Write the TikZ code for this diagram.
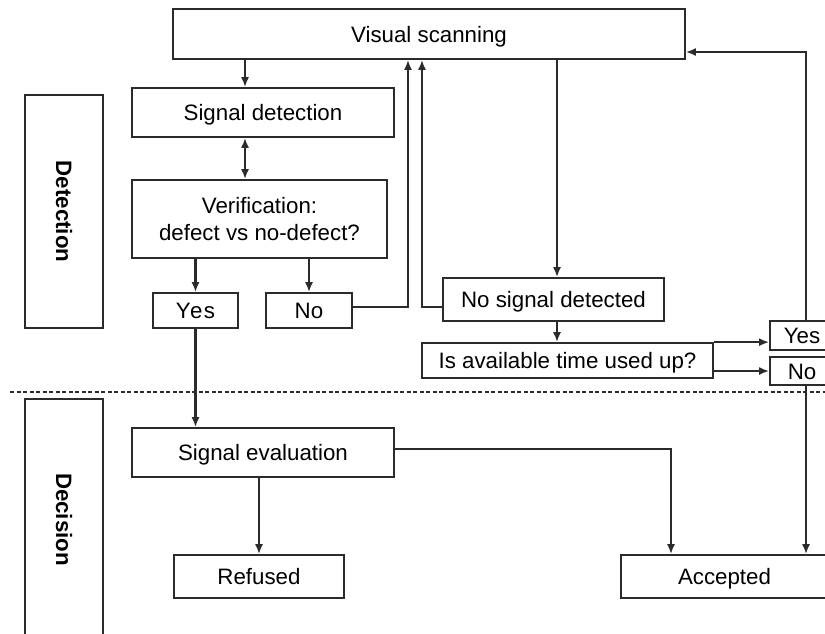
\documentclass[tikz,border=0pt]{standalone}
\usepackage{fontspec}
\setmainfont{Liberation Sans}
\usetikzlibrary{arrows.meta}
\definecolor{linec}{HTML}{2B2B2B}
\begin{document}
\begin{tikzpicture}[x=1pt,y=-1pt,
  box/.style={draw=linec, line width=1.7pt, inner sep=0pt, fill=white,
    font=\fontsize{22.3}{27}\selectfont, text=black, align=center,
    text height=16pt, text depth=0pt},
  arr/.style={draw=linec, line width=2.5pt, -{Latex[length=10pt,width=8pt]}},
  darr/.style={draw=linec, line width=2.5pt, {Latex[length=10pt,width=8pt]}-{Latex[length=10pt,width=8pt]}},
  sepline/.style={draw=linec, line width=1.4pt, dash pattern=on 4pt off 2.5pt}]
\useasboundingbox (0,0) rectangle (825,633);
\clip (0,0) rectangle (825,633);

% helper coordinates
\coordinate (xa) at (245,0);
\coordinate (xb) at (408,0);
\coordinate (xc) at (422,0);
\coordinate (xd) at (557,0);
\coordinate (xe) at (806,0);
\coordinate (xf) at (671,0);
\coordinate (ya) at (0,52);
\coordinate (yb) at (0,449);
\coordinate (yc) at (0,307);
\coordinate (dl) at (10,392);
\coordinate (dr) at (825,392);

% separator
\draw[sepline] (dl) -- (dr);

% side boxes
\node[box, rotate=-90, minimum width=233, minimum height=78] (det) at (64,211.5) {\bfseries Detection};
\node[box, rotate=-90, minimum width=241, minimum height=78] (dec) at (64,519.5) {\bfseries Decision};

% main nodes
\node[box, minimum width=512, minimum height=50] (vs) at (429,34) {Visual scanning};
\node[box, minimum width=262, minimum height=49] (sd) at (263,112.5) {Signal detection};
\node[box, minimum width=255, minimum height=78, text height=, text depth=] (ver) at (259.5,219) {Verification:\\defect vs no-defect?};
\node[box, minimum width=85, minimum height=35] (yes1) at (195.5,310.5) {\addfontfeature{LetterSpace=6}Yes};
\node[box, minimum width=86, minimum height=35] (no1) at (309,310.5) {No};
\node[box, minimum width=221, minimum height=43] (nsd) at (553.5,299.5) {No signal detected};
\node[box, minimum width=291, minimum height=35] (iat) at (567.5,360.5) {Is available time used up?};
\node[box, minimum width=64, minimum height=29] (yes2) at (802,335.5) {Yes};
\node[box, minimum width=64, minimum height=28] (no2) at (802,371) {No};
\node[box, minimum width=262, minimum height=49] (se) at (263,452.5) {Signal evaluation};
\node[box, minimum width=170, minimum height=43] (ref) at (259,576.5) {Refused};
\node[box, minimum width=207, minimum height=43] (acc) at (724.5,576.5) {Accepted};

% connectors
\draw[arr] (vs.south -| xa) -- (sd.north -| xa);
\draw[darr] (sd.south -| xa) -- (ver.north -| xa);
\draw[arr] (ver.south -| yes1.north) -- (yes1.north);
\draw[arr] (ver.south -| no1.north) -- (no1.north);
\draw[arr] (no1.east |- yc) -| (xb |- vs.south);
\draw[arr] (nsd.west |- yc) -| (xc |- vs.south);
\draw[arr] (vs.south -| xd) -- (nsd.north -| xd);
\draw[arr] (nsd.south -| xd) -- (iat.north -| xd);
\draw[arr] (iat.north east) -- (yes2.west |- iat.north east);
\draw[arr] (no2.west -| iat.east) -- (no2.west);
\draw[arr] (yes2.north -| xe) |- (vs.east |- ya);
\draw[arr] (no2.south -| xe) -- (acc.north -| xe);
\draw[arr] (yes1.south) -- (se.north -| yes1.south);
\draw[arr] (se.east |- yb) -| (acc.north -| xf);
\draw[arr] (se.south -| ref.north) -- (ref.north);
\end{tikzpicture}
\end{document}
